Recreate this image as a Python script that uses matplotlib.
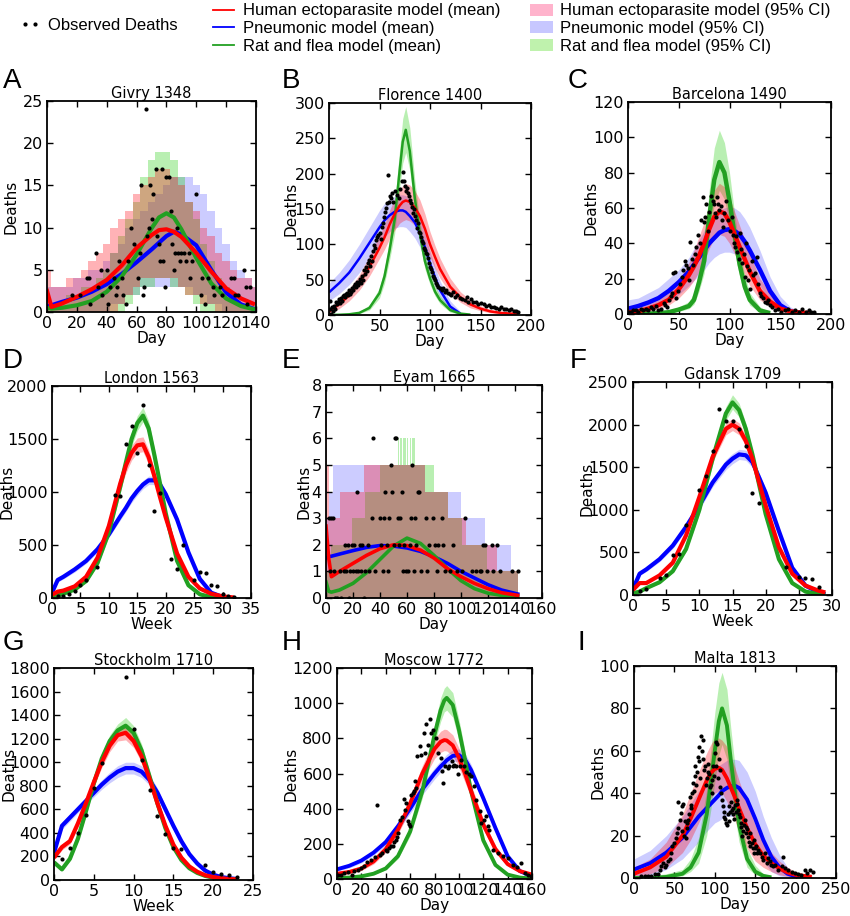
import numpy as np
import matplotlib
matplotlib.use('Agg')
import matplotlib.pyplot as plt
from matplotlib.lines import Line2D
from matplotlib.patches import Patch

nan = np.nan

# ---------------- A: Givry 1348 ----------------
givry_obs_day = [17,22,27,28,29,33,34,36,37,40,41,42,45,46,47,48,50,51,53,54,56,58,61,62,63,64,65,66,67,68,69,70,71,73,74,75,76,77,78,79,80,82,83,84,85,86,87,88,89,90,92,93,95,96,97,100,103,104,106,108,111,112,116,117,123,125,126,128,132,133,134,136]
givry_obs = [2,2,4,4,1,7,3,5,2,5,1,3,4,2,3,6,4,2,1,6,10,8,4,7,15,2,3,24,9,10,15,11,14,17,9,8,6,17,6,3,16,16,12,8,5,7,10,7,6,7,7,6,7,4,6,14,2,4,1,4,3,2,3,2,4,4,2,2,5,3,1,3]
givry_x = [0,3,10,20,30,40,50,60,70,75,80,85,90,100,110,120,130,138]
givry_red = [2.5,0.6,1.0,1.8,2.7,3.8,5.5,7.6,9.1,9.7,9.8,9.5,8.9,7.0,4.8,2.8,1.6,1.0]
givry_blue = [0.7,0.8,1.2,1.7,2.4,3.3,4.5,5.9,7.4,8.2,9.0,9.5,9.2,7.9,5.0,2.3,0.9,0.4]
givry_green = [0.5,0.4,0.5,0.8,1.3,2.4,4.2,6.8,9.9,11.2,11.7,11.2,9.8,6.4,3.4,1.6,0.7,0.35]
givry_band_day = [0,5,10,15,20,25,30,35,40,45,50,55,60,65,70,75,80,85,90,95,100,105,110,115,120,125,130,135,140]
givry_red_hi = [5,3,3,4,4,5,6,7,8,10,11,12,14,15,16,17,17,16,15,13,12,10,9,7,6,5,4,4,3]
givry_red_lo = [0,0,0,0,0,0,0,0,0,0,1,2,3,4,4,4,4,4,3,2,2,1,1,0,0,0,0,0,0]
givry_green_hi = [1,1,1,2,2,3,3,4,5,7,9,11,13,16,18,19,19,18,16,13,11,8,6,4,3,2,1,1,1]
givry_green_lo = [0,0,0,0,0,0,0,0,0,0,0,1,2,3,3,4,4,3,3,2,1,0,0,0,0,0,0,0,0]
givry_blue_hi = [3,3,3,3,4,4,5,5,6,7,8,10,11,12,13,14,15,16,16,16,15,14,12,10,8,6,5,4,3]
givry_blue_lo = [0,0,0,0,0,0,0,0,0,1,1,2,2,3,3,3,3,3,3,3,2,2,1,1,0,0,0,0,0]

# ---------------- B: Florence 1400 ----------------
florence_obs_day = [1,1,2,3,4,5,6,7,8,9,10,11,12,13,14,15,16,17,18,19,20,21,22,23,24,25,26,27,28,29,30,31,32,33,34,35,36,37,38,39,40,41,42,43,44,45,46,47,48,49,50,51,52,53,54,55,56,57,58,59,60,61,62,63,65,67,69,70,72,73,74,75,76,77,78,79,80,81,82,83,84,85,86,87,88,89,90,91,92,93,94,95,96,97,98,99,100,101,102,103,104,105,106,107,108,110,112,113,115,116,118,120,121,123,125,127,130,132,135,137,138,141,143,146,148,150,153,155,158,160,163,165,168,170,173,175,178,180,183,185,187]
florence_obs = [20,9,2,12,5,13,8,18,15,19,22,17,24,20,27,28,26,30,31,29,35,30,33,38,36,41,44,40,46,43,47,51,45,55,50,64,58,68,62,73,78,70,83,76,90,99,95,106,110,113,116,108,125,130,139,146,152,158,198,160,168,165,172,160,175,170,165,178,190,203,189,182,176,180,172,168,163,158,153,144,150,140,135,123,130,118,116,110,105,102,95,92,88,87,80,73,68,65,61,55,53,50,45,42,40,38,35,38,33,36,31,30,28,32,25,28,24,22,21,26,19,22,18,19,15,17,16,13,14,12,12,10,9,11,8,9,7,8,5,6,4]
florence_x = [0,10,20,30,40,50,55,60,65,70,73,76,80,85,90,95,100,105,110,120,130,140,150,160,170,180,187]
florence_red = [5,15,28,45,68,95,110,128,143,155,160,162,160,152,140,122,100,82,65,40,25,15,9,5,3,2,2]
florence_red_lo = [1,9,20,35,55,80,93,108,120,130,133,135,133,127,115,100,82,66,52,31,18,10,6,3,2,1,1]
florence_red_hi = [10,22,37,57,83,113,128,148,165,178,183,186,184,176,163,143,118,98,80,52,33,21,13,8,5,3,3]
florence_blue = [32,45,60,80,102,124,134,141,146,148,148,146,140,131,116,96,73,53,35,12,2,nan,nan,nan,nan,nan,nan]
florence_blue_lo = [20,30,43,60,80,100,110,118,123,125,125,124,118,109,96,78,58,40,25,6,0,nan,nan,nan,nan,nan,nan]
florence_blue_hi = [45,60,78,100,124,148,158,164,168,170,170,169,162,152,137,115,90,68,48,20,5,nan,nan,nan,nan,nan,nan]
florence_green = [0,0.3,1,3,10,31,55,92,135,205,245,262,232,165,115,76,52,33,21,7,2,0.5,nan,nan,nan,nan,nan]
florence_green_lo = [0,0,0.5,2,7,24,45,78,115,180,215,230,205,145,100,65,43,27,16,4,1,0,nan,nan,nan,nan,nan]
florence_green_hi = [0.5,1,2,5,14,38,66,108,158,235,278,295,265,190,132,90,62,41,27,10,4,1,nan,nan,nan,nan,nan]

# ---------------- C: Barcelona 1490 ----------------
barcelona_obs_day = [1,3,5,8,10,13,15,18,20,23,25,28,30,33,35,36,38,40,42,43,44,46,47,49,51,53,54,56,57,59,60,61,63,64,66,67,69,71,72,74,75,76,77,79,80,82,84,85,86,87,88,89,90,92,93,94,95,97,99,100,102,103,104,105,106,107,109,110,111,112,114,115,116,117,118,119,120,122,123,125,127,128,130,131,133,135,137,138,140,142,145,148,151,155,158,162,165,168,171,175,178,180,183]
barcelona_obs = [1,1,2,2,1,3,2,3,2,4,3,4.5,2,3,6,5,4,8,10,12,23,24,9,13,17,21,25,30,28,26,19,41,31,28,34,38,45,40,53,66,52,55,62,47,58,67,64,62,57,55,66,62,59,61,53,49,57,64,53,47,55,45,40,38,44,35,31,46,37,29,34,21,40,27,19,25,14,30,22,23,32,17,12,10,9,7,6,8,5,4,2,3,1,2,3,1,2,1,3,1,2,1,1]
barcelona_x = [0,10,20,30,40,50,60,65,70,75,80,85,90,95,100,105,110,115,120,130,140,150,160,170,180]
barcelona_red = [1,1.5,3,5,8,14,22,27,33,40,48,55,58,57,52,45,38,31,24,13,7,3,1.5,0.8,0.5]
barcelona_red_lo = [0,0.5,1.5,3,5,9,15,19,24,30,37,43,45,44,40,34,28,22,16,8,4,1.5,0.5,0.2,0.1]
barcelona_red_hi = [3,3.5,5.5,8,12,19,29,36,44,52,62,70,74,72,66,58,50,42,34,20,12,6,3,1.5,1]
barcelona_blue = [3,4.5,6.5,9,13,18,24,28,32,36,40,43,46,47.5,48,47,45,41,36,25,13,5,1.5,0.5,nan]
barcelona_blue_lo = [0,1,2,4,7,11,16,19,22,25,29,32,34,35,35,34,32,29,25,16,7,2,0.5,0,nan]
barcelona_blue_hi = [8,9,12,15,20,25,32,37,42,47,52,56,59,60,61,60,58,54,49,36,21,10,4,1.5,nan]
barcelona_green = [0,0,0.2,0.5,1,2.5,4.5,8,18,30,55,76,86,80,64,45,28,15.5,8,2,0.5,nan,nan,nan,nan]
barcelona_green_lo = [0,0,0,0.2,0.5,1.5,3,5.5,13,23,43,62,70,65,51,35,21,11,5,1,0.2,nan,nan,nan,nan]
barcelona_green_hi = [0.5,0.5,0.6,1.2,2,4,7,12,25,40,70,94,104,97,80,57,37,22,12,4,1.2,nan,nan,nan,nan]

# ---------------- D: London 1563 ----------------
london_obs_week = [1,2,3,4,5,6,8,11,12,13,14,15,16,17,18,19,21,22,23,25,26,27,28,29,30,31,32]
london_obs = [15,20,40,63,119,166,289,967,958,1450,1623,1365,1824,1256,823,989,367,276,496,173,242,232,126,110,41,20,10]
london_x = [0,1,2,4,6,8,10,12,13,14,15,16,17,18,19,20,22,24,26,28,30,32]
london_red = [30,60,70,110,200,380,680,1080,1250,1370,1440,1450,1330,1150,950,760,420,200,90,40,15,5]
london_red_lo = [20,50,60,95,180,350,630,1020,1180,1300,1370,1380,1260,1090,900,720,395,185,80,35,12,3]
london_red_hi = [40,70,82,125,220,410,730,1140,1320,1440,1510,1520,1400,1210,1000,800,445,215,100,45,18,7]
london_blue = [50,170,200,270,350,460,600,770,850,940,1010,1070,1110,1110,1070,980,740,430,180,50,10,nan]
london_blue_lo = [40,150,180,245,325,430,570,735,815,900,970,1030,1070,1070,1030,945,710,410,165,42,7,nan]
london_blue_hi = [60,190,220,295,375,490,630,805,885,980,1050,1110,1150,1150,1110,1015,770,450,195,58,13,nan]
london_green = [20,25,40,80,160,330,620,1050,1280,1500,1650,1720,1600,1350,1080,800,350,120,35,8,2,nan]
london_green_lo = [15,20,33,70,145,305,580,990,1210,1430,1580,1660,1540,1290,1030,760,330,110,30,6,1,nan]
london_green_hi = [25,30,47,90,175,355,660,1110,1350,1570,1720,1800,1670,1410,1130,840,370,130,40,10,3,nan]

# ---------------- E: Eyam 1665 ----------------
eyam_obs_day = [2,3,4,5,6,7,8,10,11,13,14,15,16,17,18,19,20,21,22,23,24,25,26,27,28,29,31,32,34,35,36,40,41,42,43,44,45,46,47,48,49,50,51,52,53,54,55,56,57,58,59,61,62,63,64,65,66,67,68,69,70,74,75,76,79,81,82,83,86,87,88,92,94,97,101,103,108,111,114,115,116,118,119,123,124,127,129,138,142]
eyam_obs = [3,1,3,3,1,0,0,1,0,1,2,1,2,0,1,2,1,2,1,4,1,2,1,2,0,1,2,1,3,6,1,3,2,1,3,4,2,1,3,5,4,2,6,6,3,2,3,4,1,2,1,1,2,3,5,1,3,2,4,4,1,3,1,2,3,2,1,2,3,2,1,1,2,1,1,3,1,1,1,1,2,2,1,2,1,2,1,1,1]
eyam_x = [0,2,4,10,20,30,40,50,60,70,80,90,100,110,120,130,142]
eyam_red = [2.7,1.5,0.8,1.0,1.3,1.6,1.85,2.0,1.97,1.8,1.5,1.1,0.8,0.55,0.35,0.2,0.1]
eyam_blue = [1.5,1.55,1.57,1.65,1.78,1.9,1.97,1.95,1.88,1.75,1.55,1.3,1.0,0.75,0.5,0.3,0.15]
eyam_green = [0.6,0.25,0.22,0.3,0.55,0.95,1.45,1.95,2.25,2.05,1.6,1.1,0.65,0.35,0.18,0.1,0.05]
eyam_red_hi_day = [0,1,2,10,28,73,90,104,127,142]
eyam_red_hi = [7,5,3,4,5,4,3,2,1,1]
eyam_blue_hi_day = [0,2,5,73,100,118,137,142]
eyam_blue_hi = [3,4,5,4,3,2,1,1]
eyam_green_hi_day = [0,4,19,29,40,53,54,55,56,57,58,59,60,61,62,63,64,65,66,67,80,90,101,119,142]
eyam_green_hi = [1,2,3,4,5,6,5,6,5,6,6,5,6,5,6,5,6,6,5,5,4,3,2,1,1]

# ---------------- F: Gdansk 1709 ----------------
gdansk_obs_week = [1,2,4,5,6,7,8,10,11,12,13,14,15,16,17,18,19,23,25,26,27,28]
gdansk_obs = [47,67,196,235,470,482,823,1238,1391,1696,2186,2045,2045,1951,1751,1199,1077,333,215,200,192,90]
gdansk_x = [0,1,2,4,6,8,10,12,14,15,16,17,18,20,22,24,26,28,29]
gdansk_red = [60,140,140,230,380,700,1150,1620,1950,2000,1950,1810,1600,1050,560,250,110,50,30]
gdansk_red_lo = [50,125,125,210,355,665,1100,1560,1880,1930,1880,1750,1545,1010,535,235,100,44,26]
gdansk_red_hi = [70,155,155,250,405,735,1200,1680,2020,2070,2020,1870,1655,1090,585,265,120,56,34]
gdansk_blue = [70,250,300,420,580,800,1050,1320,1530,1600,1650,1640,1560,1200,750,320,110,30,10]
gdansk_blue_lo = [55,230,275,390,545,760,1000,1270,1470,1540,1590,1580,1500,1150,715,300,100,25,8]
gdansk_blue_hi = [85,270,325,450,615,840,1100,1370,1590,1660,1710,1700,1620,1250,785,340,120,35,12]
gdansk_green = [20,40,80,150,280,540,1000,1600,2130,2260,2170,1950,1650,950,420,140,40,10,5]
gdansk_green_lo = [15,35,70,135,260,510,950,1530,2050,2180,2090,1880,1590,910,400,130,35,8,4]
gdansk_green_hi = [25,45,90,165,300,570,1050,1670,2210,2350,2250,2020,1710,990,440,150,45,12,6]

# ---------------- G: Stockholm 1710 ----------------
stockholm_obs_week = [1,2,3,4,5,6,9,10,11,12,13,14,15,16,19,20,21,22,23]
stockholm_obs = [175,268,401,551,777,995,1724,1286,1017,763,543,387,268,260,127,65,51,42,28]
stockholm_x = [0,1,2,3,4,5,6,7,8,9,10,11,12,13,14,15,16,17,18,19,20,21,22,23]
stockholm_red = [190,280,330,480,650,830,1000,1140,1230,1250,1180,1050,860,650,460,300,190,115,70,40,25,15,8,5]
stockholm_red_lo = [170,255,305,450,615,790,955,1090,1180,1190,1125,1000,820,615,435,283,178,107,64,36,22,13,7,4]
stockholm_red_hi = [210,305,355,510,685,870,1045,1190,1280,1310,1235,1100,900,685,485,317,202,123,76,44,28,17,9,6]
stockholm_blue = [230,460,530,600,670,740,810,870,920,950,950,920,850,740,600,460,330,220,140,80,45,25,15,8]
stockholm_blue_lo = [210,430,500,570,640,705,770,825,870,900,900,870,805,700,570,435,310,205,130,73,40,22,13,7]
stockholm_blue_hi = [250,490,560,630,700,775,850,915,970,1000,1000,970,895,780,630,485,350,235,150,87,50,28,17,9]
stockholm_green = [150,90,180,350,580,820,1030,1180,1270,1310,1250,1100,880,650,440,280,170,100,60,35,20,12,6,3]
stockholm_green_lo = [135,80,165,325,545,780,985,1130,1215,1250,1190,1045,835,615,415,262,158,92,54,31,17,10,5,2]
stockholm_green_hi = [165,100,195,375,615,860,1075,1230,1325,1380,1310,1155,925,685,465,298,182,108,66,39,23,14,7,4]

# ---------------- H: Moscow 1772 ----------------
moscow_obs_day = [1,3,6,9,12,14,17,20,22,25,28,31,33,35,37,40,41,43,44,46,47,48,49,50,52,53,55,56,57,58,59,60,61,62,63,64,65,66,68,69,71,72,73,75,76,77,79,81,83,85,86,87,89,91,92,94,95,96,98,99,101,102,104,106,108,110,112,114,117,118,121,122,124,125,128,132,136,140,144,148,151,154,157,159]
moscow_obs = [25,25,34,38,25,44,53,63,76,95,106,125,423,138,148,163,160,176,190,186,210,224,240,262,337,350,455,394,432,330,310,300,480,489,500,560,518,698,755,707,830,717,884,764,910,830,850,802,717,688,612,546,641,631,641,669,641,650,641,599,641,679,640,610,600,584,527,451,385,318,337,356,300,281,167,148,129,119,82,68,91,34,25,15]
moscow_x = [0,10,20,30,40,50,60,70,80,85,88,90,95,100,105,110,120,130,140,150,160]
moscow_red = [30,40,60,100,170,280,430,600,740,780,790,788,760,690,600,500,310,170,85,45,25]
moscow_red_lo = [20,30,48,85,150,255,395,555,685,720,730,728,700,635,550,460,280,150,72,36,18]
moscow_red_hi = [40,50,72,115,190,305,465,645,795,840,852,850,820,745,650,540,340,190,98,54,32]
moscow_blue = [55,75,105,150,210,300,400,510,600,640,660,675,700,705,680,620,460,290,130,45,15]
moscow_blue_lo = [45,63,92,135,190,275,372,478,568,607,627,641,665,670,646,588,435,272,120,40,12]
moscow_blue_hi = [65,87,118,165,230,325,428,542,632,673,693,709,735,740,714,652,485,308,140,50,18]
moscow_green = [5,8,15,30,60,130,270,500,820,960,1015,1030,990,850,680,500,220,80,25,8,2]
moscow_green_lo = [3,6,12,25,52,115,245,460,765,895,950,960,920,790,630,460,200,70,20,6,1]
moscow_green_hi = [7,10,18,35,68,145,295,540,875,1030,1085,1100,1060,910,730,540,240,90,30,10,3]

# ---------------- I: Malta 1813 ----------------
malta_obs_day = [9,13,17,21,26,30,32,34,36,38,40,42,44,46,47,50,52,53,54,55,57,58,59,60,61,62,63,64,65,66,67,68,69,70,71,72,73,74,75,76,77,78,79,80,81,82,83,84,85,86,87,88,89,90,91,92,93,94,95,96,97,98,99,100,101,102,103,104,105,106,107,108,109,110,111,112,113,114,115,116,117,118,119,120,121,122,123,124,125,126,127,128,129,130,131,132,133,134,135,136,137,138,139,140,141,142,143,144,146,147,148,149,150,151,152,154,156,158,160,162,164,166,168,170,172,174,178,183,185,187,191,195,199,203,207,212,214,218,222]
malta_obs = [1,1,1,1,2,2,4,5.5,7,5,6,8,9,12,15,16.5,19,21,36,23.5,27.5,30.5,34,22,35,20,27,19,23.5,26,27.5,30,38,34.5,33,40,45,41,53,48,44,50,57,55,62,47,67,60,56,65,51,53,44,47,50,54,49,43,44,46,40,53,48,59,53,64,63,47,56,51,43,40,37,34,29,31,28,26,25,30,34,27,31,36,32,33,30,28,34.5,31,37,35,32,30,29,24,26,20,22,25,27.5,21,24,23,19.5,17,21,15,16.5,14,18,12,14,15,12,13,12,10,8.6,12,7,9.4,8,6.3,5.5,6.3,4,5.5,10,4.7,3.6,3,2.4,2,1.4,4,2.4,3.6,2.8]
malta_x = [0,20,40,60,70,80,90,95,100,105,109,115,120,125,130,140,150,160,170,180,190,200,210,220]
malta_red = [2,5,10,20,28,37,46,49.5,51.5,52,51,47,42.5,38,33,23.5,16,10.5,7,4.5,2.6,1.5,1,0.6]
malta_red_lo = [0.5,2,5,12,18,26,35,38,40,41,40,36,31,27,22,14,8,5,3,1.5,0.8,0.4,0.2,0.1]
malta_red_hi = [5,9,17,30,40,50,59,63,66,66,65,62,57,52,46,35,25,18,12,8,5,3,2,1.5]
malta_blue = [4,7,12,19,24,29,33,35,37,39,41,42.5,43.3,43.5,42.5,37,28,18,10,5,2,0.8,0.3,nan]
malta_blue_lo = [0,1,4,9,13,17,22,24,26,27,28,29,29,29,28,23,15,8,3,1,0.3,0,0,nan]
malta_blue_hi = [9,13,20,29,35,41,45,48,51,53,54,55.5,56,56,55.5,50,41,29,19,11,5,2,1,nan]
malta_green = [0,0,0.5,2,5,12,30,45,60,74,80,72,55,40,25,9,3,1,0.3,nan,nan,nan,nan,nan]
malta_green_lo = [0,0,0,1,3,7,20,32,45,58,63,56,42,29,17,5,1.5,0.5,0,nan,nan,nan,nan,nan]
malta_green_hi = [1,1,2,4,9,19,42,60,78,92,97,89,70,53,35,14,6,2,1,nan,nan,nan,nan,nan]

# ---------------- styling ----------------
RED, BLUE, GREEN = '#ff0000', '#0000ff', '#22a022'
RED_BAND, BLUE_BAND, GREEN_BAND = (1.0, 0.0, 0.05), (0.0, 0.0, 1.0), (0.1, 0.8, 0.0)
A_RED, A_BLUE, A_GREEN = 0.3, 0.2, 0.3

W, H = 850, 916
fig = plt.figure(figsize=(W / 100, H / 100), dpi=100)


def rect(l, t, r, b):
    return [l / W, 1 - b / H, (r - l) / W, (b - t) / H]


smooth_panels = [
    dict(px=(329, 103, 531, 315), title='Florence 1400', letter='B', lpx=(282, 88), xlabel='Day', ylx=-38,
         xlim=(0, 200), ylim=(0, 300), xt=[0, 50, 100, 150, 200], yt=[0, 50, 100, 150, 200, 250, 300], lw=1.8,
         ox=florence_obs_day, oy=florence_obs, x=florence_x,
         red=(florence_red, florence_red_lo, florence_red_hi), blue=(florence_blue, florence_blue_lo, florence_blue_hi),
         green=(florence_green, florence_green_lo, florence_green_hi)),
    dict(px=(628, 102, 831, 314), title='Barcelona 1490', letter='C', lpx=(568, 88), xlabel='Day', ylx=-37,
         xlim=(0, 200), ylim=(0, 120), xt=[0, 50, 100, 150, 200], yt=[0, 20, 40, 60, 80, 100, 120], lw=3.2,
         ox=barcelona_obs_day, oy=barcelona_obs, x=barcelona_x,
         red=(barcelona_red, barcelona_red_lo, barcelona_red_hi), blue=(barcelona_blue, barcelona_blue_lo, barcelona_blue_hi),
         green=(barcelona_green, barcelona_green_lo, barcelona_green_hi)),
    dict(px=(52, 386, 251, 598), title='London 1563', letter='D', lpx=(3, 368), xlabel='Week', ylx=-45,
         xlim=(0, 35), ylim=(0, 2000), xt=[0, 5, 10, 15, 20, 25, 30, 35], yt=[0, 500, 1000, 1500, 2000], lw=3.0,
         ox=london_obs_week, oy=london_obs, x=london_x,
         red=(london_red, london_red_lo, london_red_hi), blue=(london_blue, london_blue_lo, london_blue_hi),
         green=(london_green, london_green_lo, london_green_hi)),
    dict(px=(633, 382, 832, 595), title='Gdansk 1709', letter='F', lpx=(570, 368), xlabel='Week', ylx=-46,
         xlim=(0, 30), ylim=(0, 2500), xt=[0, 5, 10, 15, 20, 25, 30], yt=[0, 500, 1000, 1500, 2000, 2500], lw=3.0,
         ox=gdansk_obs_week, oy=gdansk_obs, x=gdansk_x,
         red=(gdansk_red, gdansk_red_lo, gdansk_red_hi), blue=(gdansk_blue, gdansk_blue_lo, gdansk_blue_hi),
         green=(gdansk_green, gdansk_green_lo, gdansk_green_hi)),
    dict(px=(54, 668, 253, 880), title='Stockholm 1710', letter='G', lpx=(3, 650), xlabel='Week', ylx=-45,
         xlim=(0, 25), ylim=(0, 1800), xt=[0, 5, 10, 15, 20, 25], yt=list(range(0, 1801, 200)), lw=3.0,
         ox=stockholm_obs_week, oy=stockholm_obs, x=stockholm_x,
         red=(stockholm_red, stockholm_red_lo, stockholm_red_hi), blue=(stockholm_blue, stockholm_blue_lo, stockholm_blue_hi),
         green=(stockholm_green, stockholm_green_lo, stockholm_green_hi)),
    dict(px=(337, 668, 532, 879), title='Moscow 1772', letter='H', lpx=(282, 650), xlabel='Day', ylx=-46,
         xlim=(0, 160), ylim=(0, 1200), xt=list(range(0, 161, 20)), yt=list(range(0, 1201, 200)), lw=2.8,
         ox=moscow_obs_day, oy=moscow_obs, x=moscow_x,
         red=(moscow_red, moscow_red_lo, moscow_red_hi), blue=(moscow_blue, moscow_blue_lo, moscow_blue_hi),
         green=(moscow_green, moscow_green_lo, moscow_green_hi)),
    dict(px=(634, 666, 836, 878), title='Malta 1813', letter='I', lpx=(578, 650), xlabel='Day', ylx=-36,
         xlim=(0, 250), ylim=(0, 100), xt=[0, 50, 100, 150, 200, 250], yt=[0, 20, 40, 60, 80, 100], lw=2.8,
         ox=malta_obs_day, oy=malta_obs, x=malta_x,
         red=(malta_red, malta_red_lo, malta_red_hi), blue=(malta_blue, malta_blue_lo, malta_blue_hi),
         green=(malta_green, malta_green_lo, malta_green_hi)),
]


def style_axes(ax, p):
    ax.set_xlim(*p['xlim'])
    ax.set_ylim(*p['ylim'])
    ax.set_xticks(p['xt'])
    ax.set_yticks(p['yt'])
    ax.tick_params(direction='in', length=4, width=1, top=True, right=True, labelsize=11.5, pad=3)
    for s in ax.spines.values():
        s.set_linewidth(1.3)
    ax.set_title(p['title'], fontsize=10.5, pad=2)
    ax.set_xlabel(p['xlabel'], fontsize=11, labelpad=0)
    ax.set_ylabel('Deaths', fontsize=11, va='center')
    axw = p['px'][2] - p['px'][0]
    ax.yaxis.set_label_coords(p['ylx'] / axw, 0.5)
    fig.text(p['lpx'][0] / W, 1 - p['lpx'][1] / H, p['letter'], fontsize=20,
             family='Liberation Sans', va='baseline', ha='left')


def draw_obs(ax, ox, oy):
    ax.plot(ox, oy, 'o', color='k', ms=3.0, mew=0, zorder=5)


for p in smooth_panels:
    ax = fig.add_axes(rect(*p['px']))
    x = np.array(p['x'], float)
    for key, bc, al in (('blue', BLUE_BAND, A_BLUE), ('green', GREEN_BAND, A_GREEN), ('red', RED_BAND, A_RED)):
        m, lo, hi = p[key]
        ax.fill_between(x, np.array(lo, float), np.array(hi, float), color=bc, alpha=al, lw=0)
    for key, c in (('blue', BLUE), ('green', GREEN), ('red', RED)):
        ax.plot(x, np.array(p[key][0], float), color=c, lw=p['lw'], solid_capstyle='butt')
    draw_obs(ax, p['ox'], p['oy'])
    style_axes(ax, p)

# Givry (step CI)
pA = dict(px=(47, 101, 256, 312), title='Givry 1348', letter='A', lpx=(3, 88), xlabel='Day', ylx=-36,
          xlim=(0, 140), ylim=(0, 25), xt=list(range(0, 141, 20)), yt=[0, 5, 10, 15, 20, 25])
ax = fig.add_axes(rect(*pA['px']))
bd = np.array(givry_band_day, float)
ax.fill_between(bd, givry_blue_lo, givry_blue_hi, step='mid', color=BLUE_BAND, alpha=A_BLUE, lw=0)
ax.fill_between(bd, givry_green_lo, givry_green_hi, step='mid', color=GREEN_BAND, alpha=A_GREEN, lw=0)
ax.fill_between(bd, givry_red_lo, givry_red_hi, step='mid', color=RED_BAND, alpha=A_RED, lw=0)
ax.plot(givry_x, givry_blue, color=BLUE, lw=3.0)
ax.plot(givry_x, givry_green, color=GREEN, lw=3.0)
ax.plot(givry_x, givry_red, color=RED, lw=3.0)
draw_obs(ax, givry_obs_day, givry_obs)
style_axes(ax, pA)

# Eyam (step CI)
pE = dict(px=(326, 385, 542, 598), title='Eyam 1665', letter='E', lpx=(282, 368), xlabel='Day', ylx=-22,
          xlim=(0, 160), ylim=(0, 8), xt=list(range(0, 161, 20)), yt=list(range(0, 9)))
ax = fig.add_axes(rect(*pE['px']))
ax.fill_between(eyam_blue_hi_day, 0, eyam_blue_hi, step='post', color=BLUE_BAND, alpha=A_BLUE, lw=0)
ax.fill_between(eyam_green_hi_day, 0, eyam_green_hi, step='post', color=GREEN_BAND, alpha=A_GREEN, lw=0)
ax.fill_between(eyam_red_hi_day, 0, eyam_red_hi, step='post', color=RED_BAND, alpha=A_RED, lw=0)
ax.plot(eyam_x, eyam_blue, color=BLUE, lw=2.6)
ax.plot(eyam_x, eyam_green, color=GREEN, lw=2.6)
ax.plot(eyam_x, eyam_red, color=RED, lw=2.6)
draw_obs(ax, eyam_obs_day, eyam_obs)
style_axes(ax, pE)

# ---------------- legends ----------------
FS = 12
leg_font = dict(family='Liberation Sans', size=FS)
h_obs = [Line2D([], [], ls='', marker='o', color='k', ms=3.0, mew=0)]
l1 = fig.legend(h_obs, ['Observed Deaths'], loc='center left', bbox_to_anchor=(20 / W, 1 - 25 / H),
                frameon=False, numpoints=2, handlelength=1.2, handletextpad=0.48, borderpad=0,
                borderaxespad=0, prop=leg_font)
h_mean = [Line2D([], [], color=RED, lw=1.3), Line2D([], [], color=BLUE, lw=1.3), Line2D([], [], color=GREEN, lw=1.3)]
l2 = fig.legend(h_mean, ['Human ectoparasite model (mean)', 'Pneumonic model (mean)', 'Rat and flea model (mean)'],
                loc='center left', bbox_to_anchor=(213 / W, 1 - 28.5 / H), frameon=False, handlelength=1.26,
                handletextpad=0.54, borderpad=0, borderaxespad=0, labelspacing=0.15, prop=leg_font)
h_ci = [Patch(facecolor=(1.0, 0.7, 0.8), lw=0), Patch(facecolor=(0.78, 0.78, 1.0), lw=0),
        Patch(facecolor=(0.75, 0.95, 0.68), lw=0)]
l3 = fig.legend(h_ci, ['Human ectoparasite model (95% CI)', 'Pneumonic model (95% CI)', 'Rat and flea model (95% CI)'],
                loc='center left', bbox_to_anchor=(530 / W, 1 - 28.5 / H), frameon=False, handlelength=1.38,
                handletextpad=0.42, borderpad=0, borderaxespad=0, labelspacing=0.15, prop=leg_font)

fig.savefig('out.png', dpi=100)
